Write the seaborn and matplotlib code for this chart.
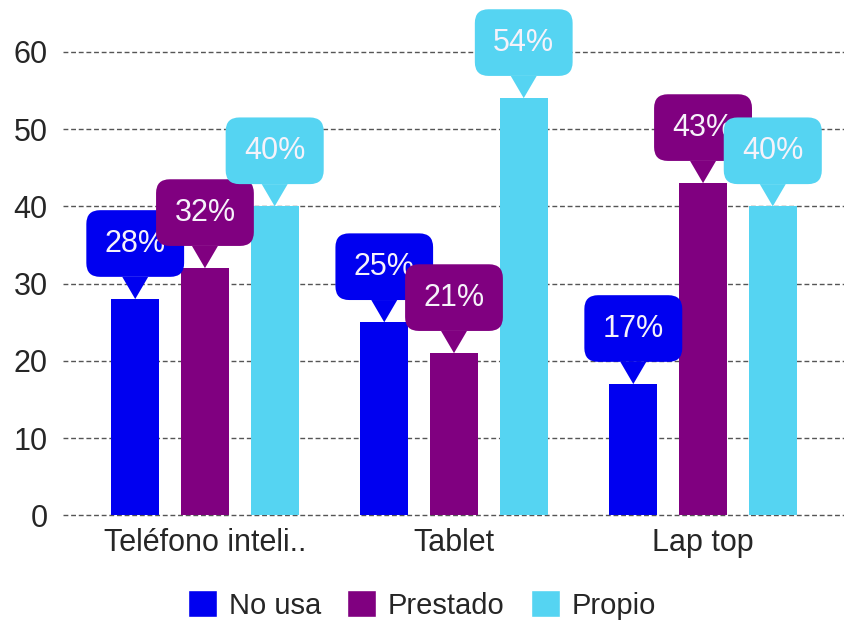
import pandas as pd
import seaborn as sns
import matplotlib.pyplot as plt
from matplotlib.patches import Patch

dispositivos = ["Teléfono inteli..", "Tablet", "Lap top"]
series = ["No usa", "Prestado", "Propio"]
no_usa = [28, 25, 17]
prestado = [32, 21, 43]
propio = [40, 54, 40]
colores = ["#0000f0", "#800080", "#55d4f2"]

df = pd.DataFrame({
    "dispositivo": dispositivos * 3,
    "uso": [s for s in series for _ in dispositivos],
    "valor": no_usa + prestado + propio,
})

sns.set_style("white")
plt.rcParams["font.family"] = ["Liberation Sans", "DejaVu Sans"]

fig = plt.figure(figsize=(8.44, 6.31), dpi=100)
ax = fig.add_axes([63 / 844, 1 - 517 / 631, 1 - 63 / 844, 517 / 631])

sns.barplot(data=df, x="dispositivo", y="valor", hue="uso",
            order=dispositivos, hue_order=series, palette=colores,
            width=0.84, gap=0.31, saturation=1, linewidth=0,
            legend=False, ax=ax)

ax.set_xlim(-0.57, 2.566)
ax.set_ylim(-0.2, 66.7)
ax.set_yticks(range(0, 61, 10))
ax.yaxis.grid(True, color="#555555", linestyle=(0, (3.5, 2)), linewidth=1.0)
ax.set_axisbelow(True)
sns.despine(ax=ax, left=True, bottom=True)
ax.set_xlabel("")
ax.set_ylabel("")
ax.tick_params(axis="both", length=0, labelsize=22, colors="#262626")
ax.tick_params(axis="y", pad=11)
ax.tick_params(axis="x", pad=8)

# globos con el porcentaje encima de cada barra
for cont, color in zip(ax.containers, colores):
    for bar in cont:
        x = bar.get_x() + bar.get_width() / 2
        h = bar.get_height()
        ax.annotate(f"{h:.0f}%", xy=(x, h), xytext=(0, 40),
                    textcoords="offset points", ha="center", va="center",
                    fontsize=22, color="#f6f2fa", annotation_clip=False,
                    bbox=dict(boxstyle="round,pad=0.6,rounding_size=0.45",
                              fc=color, ec="none"),
                    arrowprops=dict(arrowstyle="wedge,tail_width=0.85,shrink_factor=0.5",
                                    fc=color, ec="none", shrinkA=0, shrinkB=0))

handles = [Patch(facecolor=c, label=s) for s, c in zip(series, colores)]
fig.legend(handles=handles, loc="center", bbox_to_anchor=(0.5, 1 - 605 / 631),
           ncol=3, frameon=False, fontsize=21, handlelength=1.0,
           handleheight=1.0, handletextpad=0.4, columnspacing=0.9)

fig.savefig("out.png", dpi=100)
